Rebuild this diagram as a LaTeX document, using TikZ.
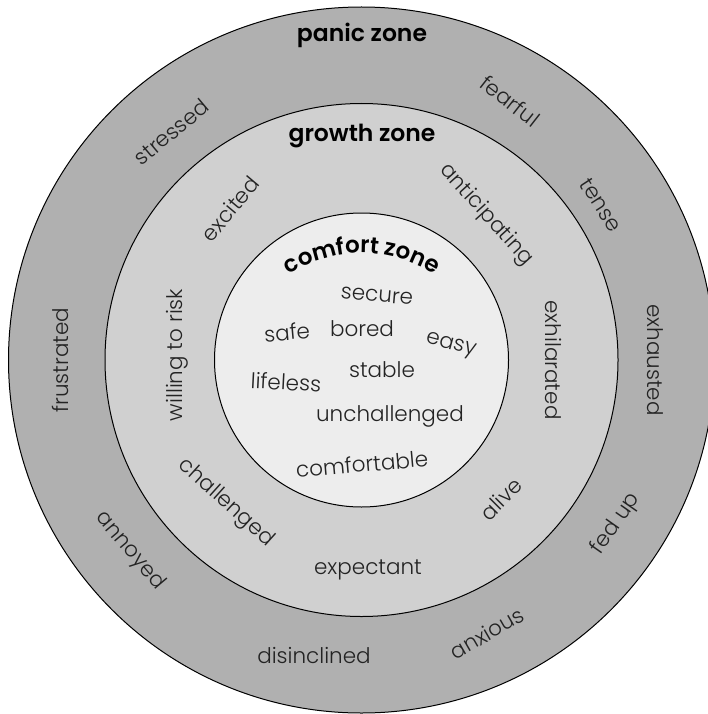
\documentclass[tikz,border=0pt]{standalone}
\usepackage{fontspec}
\newfontfamily\lightf{Poppins Light}
\newfontfamily\boldf{Poppins SemiBold}
\usetikzlibrary{decorations.text}
\definecolor{ringout}{RGB}{176,176,176}
\definecolor{ringmid}{RGB}{208,208,208}
\definecolor{ringin}{RGB}{237,237,237}
\definecolor{wordgray}{RGB}{35,35,35}
\begin{document}
\begin{tikzpicture}[x=1pt,y=-1pt,
  word/.style={font=\lightf\fontsize{21.5}{25}\selectfont, text=wordgray, inner sep=0pt},
  zone/.style={font=\boldf\fontsize{23.5}{27}\selectfont, text=black, inner sep=0pt},
  ring/.style={draw=black, line width=1pt}]
\useasboundingbox (0,0) rectangle (708,714);
\fill[white] (0,0) rectangle (708,714);
\clip (0,0) rectangle (708,714);
\coordinate (c) at (361.5,360);
\draw[ring, fill=ringout] (c) circle[radius=353];
\draw[ring, fill=ringmid] (c) circle[radius=256.5];
\draw[ring, fill=ringin] (c) circle[radius=147];
% panic zone ring
\node[zone] (panic) at (362,35) {panic zone};
\node[word, rotate=40] (stressed) at (171,132) {stressed};
\node[word, rotate=-38] (fearful) at (510,101) {fearful};
\node[word, rotate=-57] (tense) at (601,205) {tense};
\node[word, rotate=-90] (exhausted) at (655,360) {exhausted};
\node[word, rotate=90] (frustrated) at (60,360) {frustrated};
\node[word, rotate=-50] (annoyed) at (130,551) {annoyed};
\node[word] (disinclined) at (314,655) {disinclined};
\node[word, rotate=30] (anxious) at (487,633) {anxious};
\node[word, rotate=55] (fedup) at (616,524) {fed up};
% growth zone ring
\node[zone] (growth) at (362,136) {growth zone};
\node[word, rotate=50] (excited) at (230,209) {excited};
\node[word, rotate=-48] (anticipating) at (486,215) {anticipating};
\node[word, rotate=90] (willing) at (177,355) {willing to risk};
\node[word, rotate=-90] (exhilarated) at (553,360) {exhilarated};
\node[word, rotate=-42] (challenged) at (226,503) {challenged};
\node[word] (expectant) at (368,570) {expectant};
\node[word, rotate=45] (alive) at (501,499) {alive};
% comfort zone
\path[decorate, decoration={text along path, text align=center,
  text={|\boldf\fontsize{23}{27}\selectfont|comfort zone}}]
  (362,388) ++(215:135) arc[start angle=215, end angle=325, radius=135];
\node[word, rotate=-5] (secure) at (377,296) {secure};
\node[word, rotate=5] (safe) at (287,332) {safe};
\node[word] (bored) at (362,329) {bored};
\node[word, rotate=-15] (easy) at (451,346) {easy};
\node[word, rotate=-3] (lifeless) at (286,382) {lifeless};
\node[word] (stable) at (382,370) {stable};
\node[word] (unchallenged) at (390,416) {unchallenged};
\node[word, rotate=5] (comfortable) at (362,464) {comfortable};
\end{tikzpicture}
\end{document}
